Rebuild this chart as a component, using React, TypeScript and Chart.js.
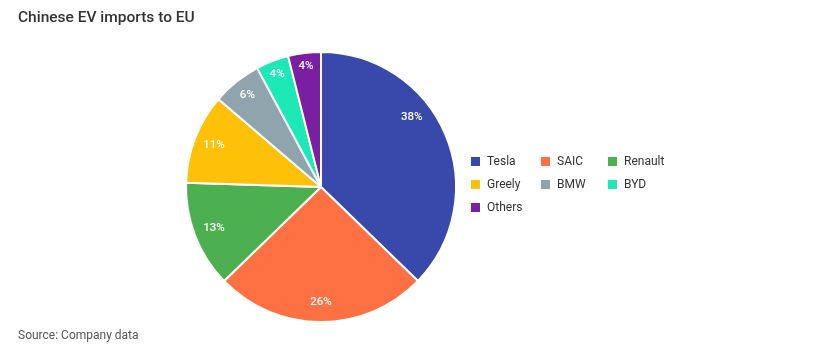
import React, { useEffect, useRef } from "react";
import { Chart, registerables } from "chart.js";

Chart.register(...registerables);

const categories = ["Tesla", "SAIC", "Renault", "Greely", "BMW", "BYD", "Others"];
const shares = [38, 26, 13, 11, 6, 4, 4];
const colors = ["#3949AB", "#FF7043", "#4CAF50", "#FFC107", "#90A4AE", "#1DE9B6", "#7B1FA2"];
const titleText = "Chinese EV imports to EU";
const sourceText = "Source: Company data";

const FONT = "Roboto, 'Noto Sans', sans-serif";

const labelPlugin = {
  id: "sliceLabels",
  afterDatasetsDraw(chart: any) {
    const ctx = chart.ctx;
    const meta = chart.getDatasetMeta(0);
    ctx.save();
    ctx.fillStyle = "#ffffff";
    ctx.font = `500 11.5px ${FONT}`;
    ctx.textAlign = "center";
    ctx.textBaseline = "middle";
    meta.data.forEach((arc: any, i: number) => {
      const { x, y, startAngle, endAngle, outerRadius } = arc.getProps(
        ["x", "y", "startAngle", "endAngle", "outerRadius"],
        true
      );
      const span = endAngle - startAngle;
      // large slices: label pulled toward the slice start, like the source layout
      const mid = span > 2 ? startAngle + span * 0.39 : (startAngle + endAngle) / 2;
      const r = outerRadius * (span < 0.3 ? 0.9 : span < 0.5 ? 0.87 : 0.85);
      ctx.fillText(shares[i] + "%", x + Math.cos(mid) * r, y + Math.sin(mid) * r);
    });
    ctx.restore();
  },
};

export default function App() {
  const ref = useRef<HTMLCanvasElement | null>(null);

  useEffect(() => {
    if (!ref.current) return;
    const chart = new Chart(ref.current, {
      type: "pie",
      data: {
        labels: categories,
        datasets: [
          {
            data: shares,
            backgroundColor: colors,
            borderColor: "#ffffff",
            borderWidth: 2,
          },
        ],
      },
      options: {
        responsive: false,
        animation: false,
        layout: { padding: { left: 185, right: 373, top: 51, bottom: 32 } },
        plugins: {
          legend: { display: false },
          tooltip: { enabled: false },
        },
      },
      plugins: [labelPlugin],
    });
    return () => chart.destroy();
  }, []);

  return (
    <div
      style={{
        position: "fixed",
        left: 0,
        top: 0,
        width: 830,
        height: 355,
        background: "#ffffff",
        fontFamily: FONT,
        overflow: "hidden",
      }}
    >
      <canvas
        ref={ref}
        width={830}
        height={355}
        style={{ position: "absolute", left: 0, top: 0, width: 830, height: 355 }}
      />
      <div
        style={{
          position: "absolute",
          left: 18,
          top: 8,
          fontSize: 15.5,
          fontWeight: 500,
          color: "#333333",
          whiteSpace: "nowrap",
        }}
      >
        {titleText}
      </div>
      <div
        style={{
          position: "absolute",
          left: 18,
          top: 328,
          fontSize: 12,
          color: "#555555",
          whiteSpace: "nowrap",
        }}
      >
        {sourceText}
      </div>
      <div
        style={{
          position: "absolute",
          left: 471,
          top: 153,
          display: "grid",
          gridTemplateColumns: "70px 67px 80px",
          rowGap: 7,
          fontSize: 12,
          color: "#333333",
        }}
      >
        {categories.map((c, i) => (
          <div key={c} style={{ display: "flex", alignItems: "center", height: 16, whiteSpace: "nowrap" }}>
            <span
              style={{
                display: "inline-block",
                width: 9,
                height: 9,
                background: colors[i],
                marginRight: 7,
              }}
            />
            {c}
          </div>
        ))}
      </div>
    </div>
  );
}
